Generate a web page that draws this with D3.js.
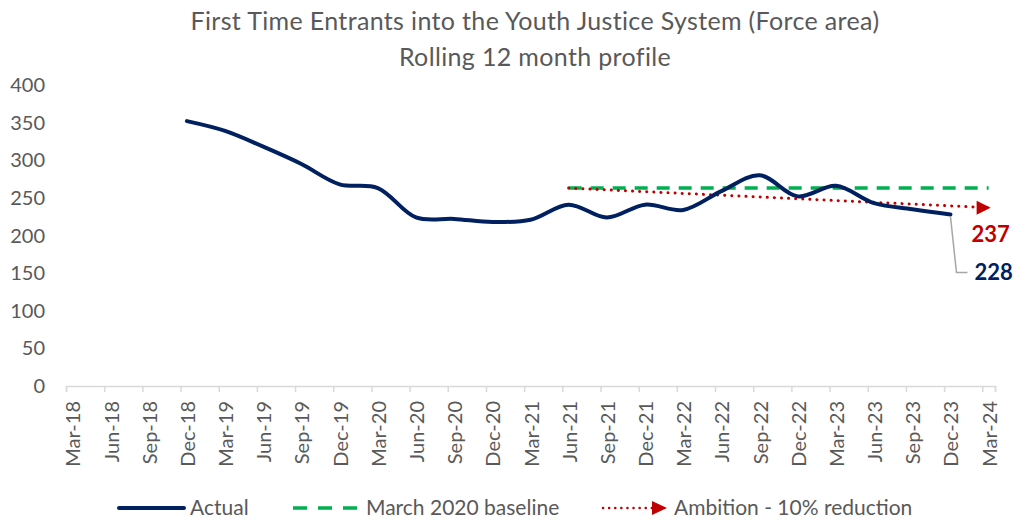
<!DOCTYPE html>
<html>
<head>
<meta charset="utf-8">
<script src="https://cdn.jsdelivr.net/npm/d3@7"></script>
<style>
  body { margin: 0; background: #fff; }
  text { font-family: Lato, "Open Sans", sans-serif; }
</style>
</head>
<body>
<div id="chart"></div>
<script>
// data
var tickLabels = ["Mar-18","Jun-18","Sep-18","Dec-18","Mar-19","Jun-19","Sep-19","Dec-19",
  "Mar-20","Jun-20","Sep-20","Dec-20","Mar-21","Jun-21","Sep-21","Dec-21","Mar-22","Jun-22",
  "Sep-22","Dec-22","Mar-23","Jun-23","Sep-23","Dec-23","Mar-24"];
var actualDates = ["Dec-18","Mar-19","Jun-19","Sep-19","Dec-19","Mar-20","Jun-20","Sep-20",
  "Dec-20","Mar-21","Jun-21","Sep-21","Dec-21","Mar-22","Jun-22","Sep-22","Dec-22","Mar-23",
  "Jun-23","Sep-23","Dec-23"];
var actualValues = [352, 339, 318, 295, 268, 263, 224, 222, 218, 221, 241, 224, 241, 234,
  259, 280, 252, 266, 243, 235, 228];
var baselineDates = ["Jun-21", "Mar-24"];
var baselineValues = [263, 263];
var ambitionDates = ["Jun-21", "Mar-24"];
var ambitionValues = [263, 237];
var yTicks = [0, 50, 100, 150, 200, 250, 300, 350, 400];

var W = 1014, H = 521;
var navy = "#002060", green = "#00B050", red = "#C00000", grey = "#595959";

var svg = d3.select("#chart").append("svg")
    .attr("width", W)
    .attr("height", H);

var parse = d3.timeParse("%b-%y");
function monthIndex(s) {
    var d = parse(s);
    return (d.getFullYear() - 2018) * 12 + d.getMonth() - 2;
}

// 73 monthly slots, Mar-18 .. Mar-24; points sit in the middle of a slot
var x = d3.scaleLinear().domain([0, 73]).range([66, 995]);
var y = d3.scaleLinear().domain([0, 400]).range([386, 85]);
function px(s) { return x(monthIndex(s) + 0.5); }

// title
svg.append("text")
    .attr("x", 535).attr("y", 30)
    .attr("text-anchor", "middle")
    .attr("font-size", 25).attr("letter-spacing", 0.35).attr("fill", grey)
    .text("First Time Entrants into the Youth Justice System (Force area)");
svg.append("text")
    .attr("x", 535).attr("y", 66)
    .attr("text-anchor", "middle")
    .attr("font-size", 25).attr("letter-spacing", 0.35).attr("fill", grey)
    .text("Rolling 12 month profile");

// y axis labels (no axis line)
svg.selectAll(".ylab").data(yTicks).enter().append("text")
    .attr("class", "ylab")
    .attr("x", 45)
    .attr("y", function (d) { return y(d); })
    .attr("dy", "0.35em")
    .attr("text-anchor", "end")
    .attr("font-size", 20).attr("fill", grey)
    .text(function (d) { return d; });

// x axis
var xAxis = d3.axisBottom(x)
    .tickValues(tickLabels.map(monthIndex).concat([73]))
    .tickSize(6)
    .tickFormat("");
var gx = svg.append("g")
    .attr("transform", "translate(0," + y(0) + ")")
    .call(xAxis);
gx.select(".domain").attr("stroke", "#d9d9d9").attr("stroke-width", 1.5);
gx.selectAll(".tick line").attr("stroke", "#d9d9d9").attr("stroke-width", 1.5);

svg.selectAll(".xlab").data(tickLabels).enter().append("text")
    .attr("class", "xlab")
    .attr("transform", function (d) {
        return "translate(" + (x(monthIndex(d) + 0.5) + 8) + "," + (y(0) + 15) + ") rotate(-90)";
    })
    .attr("text-anchor", "end")
    .attr("font-size", 20).attr("fill", grey)
    .text(function (d) { return d; });

var line = d3.line()
    .x(function (d) { return px(d[0]); })
    .y(function (d) { return y(d[1]); });

// baseline
svg.append("path")
    .attr("d", line(d3.zip(baselineDates, baselineValues)))
    .attr("fill", "none")
    .attr("stroke", green)
    .attr("stroke-width", 3.5)
    .attr("stroke-dasharray", "13 9");

// ambition
var amb = d3.zip(ambitionDates, ambitionValues);
var ambEnd = amb[amb.length - 1];
svg.append("path")
    .attr("d", line(amb))
    .attr("fill", "none")
    .attr("stroke", red)
    .attr("stroke-width", 3)
    .attr("stroke-linecap", "round")
    .attr("stroke-dasharray", "0.1 7");
var ax = px(ambEnd[0]), ay = y(ambEnd[1]);
svg.append("path")
    .attr("d", "M" + (ax - 12) + "," + (ay - 7) + "L" + (ax + 2) + "," + ay + "L" + (ax - 12) + "," + (ay + 7) + "Z")
    .attr("fill", red);

// actual
svg.append("path")
    .attr("d", line.curve(d3.curveCatmullRom.alpha(0.5))(d3.zip(actualDates, actualValues)))
    .attr("fill", "none")
    .attr("stroke", navy)
    .attr("stroke-width", 4)
    .attr("stroke-linecap", "round");

// end labels
var lastI = actualValues.length - 1;
var lx = px(actualDates[lastI]), ly = y(actualValues[lastI]);
svg.append("path")
    .attr("d", "M" + lx + "," + (ly + 2) + "L" + (lx + 6) + "," + (ly + 58) + "L" + (lx + 17) + "," + (ly + 58))
    .attr("fill", "none")
    .attr("stroke", "#a6a6a6")
    .attr("stroke-width", 1.5);
svg.append("text")
    .attr("x", lx + 24).attr("y", ly + 58)
    .attr("dy", "0.35em")
    .attr("font-size", 22).attr("font-weight", "bold").attr("fill", navy)
    .text(actualValues[lastI]);
svg.append("text")
    .attr("x", lx + 21).attr("y", ay + 27)
    .attr("dy", "0.35em")
    .attr("font-size", 22).attr("font-weight", "bold").attr("fill", red)
    .text(ambEnd[1]);

// legend
var lg = svg.append("g").attr("transform", "translate(0,508)");
lg.append("line").attr("x1", 119).attr("x2", 184).attr("y1", 0).attr("y2", 0)
    .attr("stroke", navy).attr("stroke-width", 4).attr("stroke-linecap", "round");
lg.append("text").attr("x", 190).attr("y", 0).attr("dy", "0.35em")
    .attr("font-size", 21).attr("fill", grey).text("Actual");
lg.append("line").attr("x1", 293).attr("x2", 358).attr("y1", 0).attr("y2", 0)
    .attr("stroke", green).attr("stroke-width", 3.5).attr("stroke-dasharray", "14 11");
lg.append("text").attr("x", 366).attr("y", 0).attr("dy", "0.35em")
    .attr("font-size", 21).attr("fill", grey).text("March 2020 baseline");
lg.append("line").attr("x1", 603).attr("x2", 652).attr("y1", 0).attr("y2", 0)
    .attr("stroke", red).attr("stroke-width", 2.5).attr("stroke-linecap", "round")
    .attr("stroke-dasharray", "0.1 6");
lg.append("path").attr("d", "M652,-7L667,0L652,7Z").attr("fill", red);
lg.append("text").attr("x", 674).attr("y", 0).attr("dy", "0.35em")
    .attr("font-size", 21).attr("fill", grey).text("Ambition - 10% reduction");
</script>
</body>
</html>
